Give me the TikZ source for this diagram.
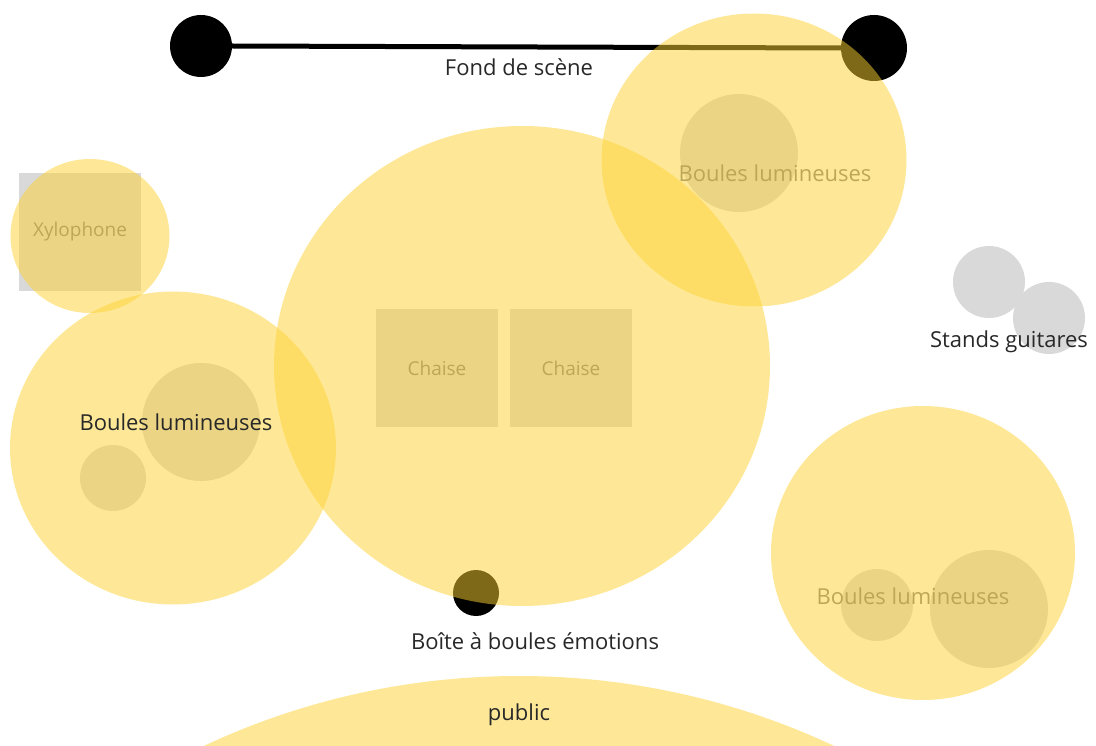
\documentclass[tikz,border=0pt]{standalone}
\usepackage{fontspec}
\usetikzlibrary{shapes.geometric}
\setmainfont{Open Sans}
\begin{document}
\begin{tikzpicture}[x=1pt,y=-1pt,
  yball/.style={ellipse,fill={rgb,255:red,253;green,210;blue,50},fill opacity=0.5,inner sep=0pt,draw=none},
  gball/.style={circle,fill={rgb,255:red,217;green,217;blue,217},inner sep=0pt,draw=none},
  gbox/.style={rectangle,fill={rgb,255:red,217;green,217;blue,217},inner sep=0pt,draw=none,minimum width=122pt,minimum height=118pt},
  kball/.style={circle,fill=black,inner sep=0pt,draw=none},
  lab/.style={font=\fontsize{22}{26}\selectfont,text={rgb,255:red,40;green,40;blue,40},inner sep=0pt},
  sublab/.style={font=\fontsize{22}{26}\selectfont,text={rgb,255:red,125;green,125;blue,125},inner sep=0pt},
  smalllab/.style={sublab,font=\fontsize{19}{23}\selectfont}]
\useasboundingbox (0,0) rectangle (1096,746);
% public
\begin{scope}
\clip (0,0) rectangle (1096,746);
\node[yball,minimum width=1470pt,minimum height=1452pt] (pub) at (519,1402) {};
\end{scope}
% back of stage
\node[kball,minimum size=62pt] (bl) at (201,46) {};
\node[kball,minimum size=66pt] (br) at (874,48) {};
\draw[line width=5pt] (bl.east) -- (br.west);
\node[lab] (fond) at (519,67) {Fond de scène};
% gray objects
\node[gbox] (xylo) at (80,232) {};
\node[smalllab] (xylot) at (80,232) {Xylophone};
\node[gbox] (ch1) at (437,368) {};
\node[gbox] (ch2) at (571,368) {};
\node[smalllab] (ch1t) at (437,368) {Chaise};
\node[smalllab] (ch2t) at (571,368) {Chaise};
\node[gball,minimum size=118pt] (g1) at (739,153) {};
\node[sublab] (bl1t) at (775,173) {Boules lumineuses};
\node[gball,minimum size=118pt] (g2) at (201,422) {};
\node[gball,minimum size=66pt] (g3) at (113,478) {};
\node[gball,minimum size=72pt] (s1) at (989,282) {};
\node[gball,minimum size=72pt] (s2) at (1049,318) {};
\node[gball,minimum size=72pt] (g4) at (877,605) {};
\node[gball,minimum size=118pt] (g5) at (989,609) {};
\node[sublab] (bl3t) at (913,596) {Boules lumineuses};
\node[kball,minimum size=46pt] (boite) at (476,593) {};
% light circles
\node[yball,minimum width=159pt,minimum height=154pt] (yx) at (90,236) {};
\node[yball,minimum width=326pt,minimum height=313pt] (yl) at (173,448) {};
\node[yball,minimum width=496pt,minimum height=480pt] (yc) at (522,366) {};
\node[yball,minimum width=305pt,minimum height=293pt] (ytr) at (754,160) {};
\node[yball,minimum width=304pt,minimum height=294pt] (ybr) at (923,553) {};
% top labels
\node[lab] (bl2t) at (176,422) {Boules lumineuses};
\node[lab] (stands) at (1009,342) {Stands guitares};
\node[lab] (boitet) at (535,641) {Boîte à boules émotions};
\node[lab] (pubt) at (519,715) {public};
\end{tikzpicture}
\end{document}
